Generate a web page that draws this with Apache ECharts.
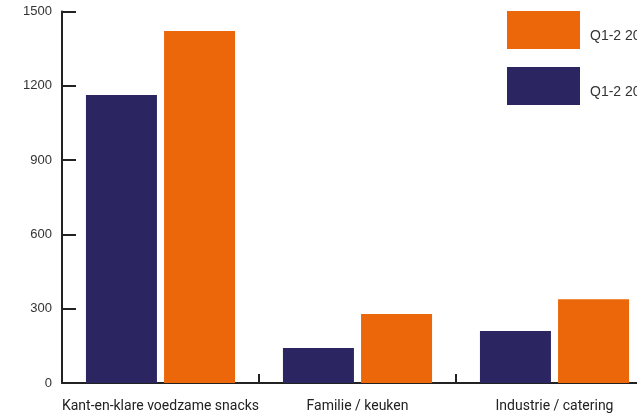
<!DOCTYPE html>
<html>
<head>
<meta charset="utf-8">
<script src="https://cdn.jsdelivr.net/npm/echarts@6/dist/echarts.min.js"></script>
<style>
  html, body { margin: 0; padding: 0; background: #fff; }
  #chart { width: 637px; height: 419px; }
</style>
</head>
<body>
<div id="chart"></div>
<script>
// Categories and values per period
const categories = ['Kant-en-klare voedzame snacks', 'Familie / keuken', 'Industrie / catering'];
const seriesNames = ['Q1-2 2019', 'Q1-2 2020'];
const valuesPrev = [1163, 141, 210];
const valuesCurr = [1421, 279, 338];
const yTicks = { min: 0, max: 1500, interval: 300 };

const navy = '#2b2562';
const orange = '#ec670a';
const axisColor = '#222';

const chart = echarts.init(document.getElementById('chart'), null, { renderer: 'canvas' });

chart.setOption({
  animation: false,
  backgroundColor: '#fff',
  grid: {
    left: 62, top: 11.5, width: 591, bottom: 36,
    containLabel: false,
    outerBoundsMode: 'none'
  },
  legend: {
    orient: 'vertical',
    left: 507,
    top: 11,
    padding: 0,
    itemWidth: 73,
    itemHeight: 38,
    itemGap: 18,
    data: [seriesNames[1], seriesNames[0]],
    icon: 'rect',
    formatter: '{t|{name}}',
    textStyle: {
      rich: {
        t: {
          fontFamily: 'Liberation Sans, Arial, sans-serif',
          fontSize: 14,
          color: '#333',
          padding: [13, 0, 0, 5]
        }
      }
    }
  },
  xAxis: {
    type: 'category',
    data: categories,
    axisLine: { lineStyle: { color: axisColor, width: 2 } },
    axisTick: { show: true, inside: true, length: 9, lineStyle: { color: axisColor, width: 2 } },
    axisLabel: {
      interval: 0,
      fontFamily: 'Roboto, sans-serif',
      fontSize: 14,
      color: '#222',
      margin: 16
    }
  },
  yAxis: {
    type: 'value',
    position: 'left',
    min: yTicks.min,
    max: yTicks.max,
    interval: yTicks.interval,
    splitLine: { show: false },
    axisLine: { show: true, lineStyle: { color: axisColor, width: 2 } },
    axisTick: { show: true, inside: true, length: 14, lineStyle: { color: axisColor, width: 2 } },
    axisLabel: {
      fontFamily: 'Liberation Sans, Arial, sans-serif',
      fontSize: 13,
      color: '#333',
      margin: 10,
      formatter: (v) => String(v)
    }
  },
  series: [
    {
      name: seriesNames[0],
      type: 'bar',
      data: valuesPrev,
      barWidth: 71,
      barGap: '10%',
      itemStyle: { color: navy }
    },
    {
      name: seriesNames[1],
      type: 'bar',
      data: valuesCurr,
      barWidth: 71,
      barGap: '10%',
      itemStyle: { color: orange }
    }
  ]
});
</script>
</body>
</html>
